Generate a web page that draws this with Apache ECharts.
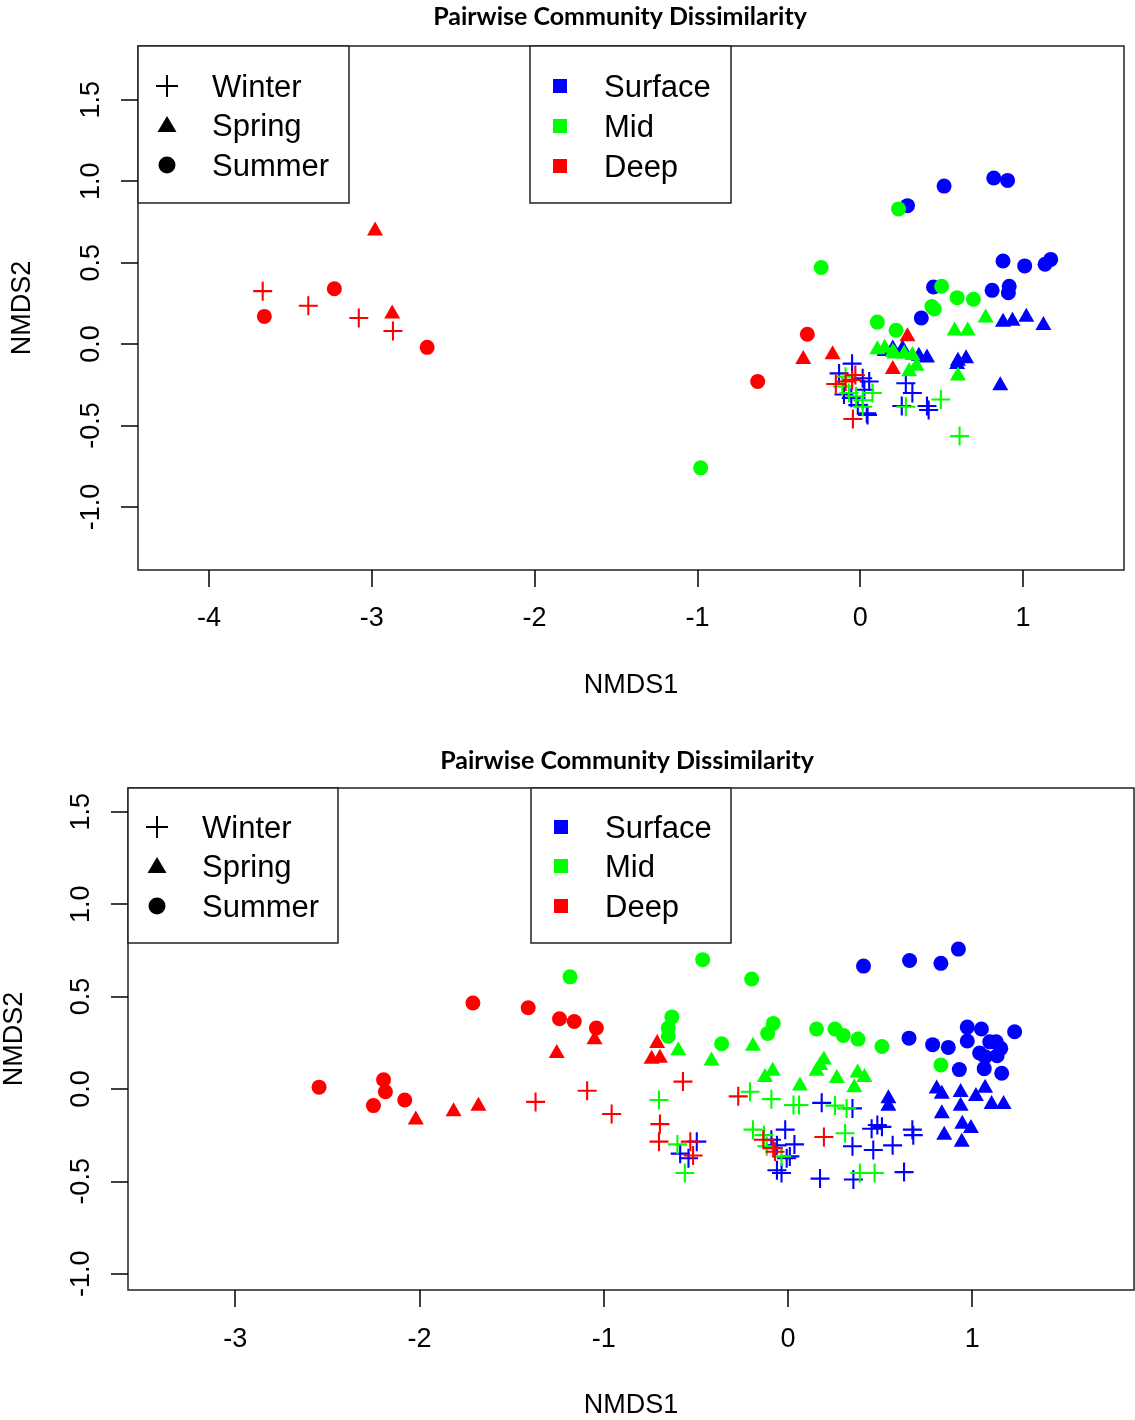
<!DOCTYPE html>
<html>
<head>
<meta charset="utf-8">
<script src="https://cdn.jsdelivr.net/npm/echarts@6/dist/echarts.min.js"></script>
<style>
  html, body { margin: 0; padding: 0; background: #fff; }
  #chart { width: 1135px; height: 1420px; }
</style>
</head>
<body>
<div id="chart"></div>
<script>
// ---- NMDS ordination scores, upper panel ----
const topWinterSurface = [[-0.13,-0.18],[-0.05,-0.12],[0.015,-0.21],[0.055,-0.23],[0.025,-0.28],[-0.055,-0.33],[-0.015,-0.375],[0.04,-0.425],[-0.10,-0.31],[0.28,-0.24],[0.32,-0.30],[0.255,-0.38],[0.41,-0.38],[0.42,-0.405],[0.045,-0.435]];
const topWinterMid = [[-0.09,-0.20],[-0.11,-0.26],[-0.07,-0.30],[-0.025,-0.32],[0.015,-0.345],[0.075,-0.30],[0.015,-0.385],[0.28,-0.385],[0.495,-0.34],[0.61,-0.565]];
const topWinterDeep = [[-3.67,0.325],[-3.39,0.235],[-3.08,0.16],[-2.87,0.08],[-0.15,-0.245],[-0.05,-0.22],[-0.09,-0.23],[-0.03,-0.19],[-0.045,-0.46]];
const topSpringSurface = [[0.877,0.15],[0.935,0.155],[1.02,0.18],[1.125,0.13],[0.20,-0.015],[0.26,-0.015],[0.36,-0.06],[0.41,-0.07],[0.60,-0.09],[0.65,-0.075],[0.595,-0.11],[0.86,-0.24],[0.15,-0.03]];
const topSpringMid = [[0.77,0.175],[0.58,0.095],[0.66,0.095],[0.105,-0.02],[0.15,-0.01],[0.20,-0.035],[0.27,-0.045],[0.32,-0.055],[0.30,-0.155],[0.345,-0.12],[0.60,-0.18],[0.21,-0.045]];
const topSpringDeep = [[-2.98,0.71],[-2.875,0.20],[-0.35,-0.08],[-0.17,-0.05],[0.29,0.06],[0.20,-0.14]];
const topSummerSurface = [[0.515,0.97],[0.82,1.02],[0.905,1.005],[0.29,0.85],[0.877,0.51],[1.01,0.48],[1.135,0.49],[1.17,0.52],[0.45,0.35],[0.81,0.33],[0.915,0.355],[0.91,0.315],[0.375,0.16]];
const topSummerMid = [[-0.24,0.47],[-0.98,-0.76],[0.235,0.83],[0.50,0.355],[0.595,0.285],[0.695,0.275],[0.455,0.215],[0.44,0.23],[0.105,0.135],[0.22,0.085]];
const topSummerDeep = [[-3.66,0.17],[-3.23,0.34],[-2.66,-0.02],[-0.325,0.06],[-0.63,-0.23]];

// ---- NMDS ordination scores, lower panel ----
const botWinterSurface = [[-0.495,-0.285],[-0.585,-0.35],[-0.54,-0.375],[-0.015,-0.22],[-0.06,-0.305],[-0.007,-0.375],[-0.06,-0.44],[-0.035,-0.455],[0.183,-0.075],[0.35,-0.105],[-0.09,-0.275],[0.01,-0.365],[0.174,-0.485],[0.355,-0.49],[0.35,-0.31],[0.454,-0.215],[0.51,-0.205],[0.463,-0.33],[0.568,-0.305],[0.63,-0.45],[0.675,-0.22],[0.68,-0.25],[0.485,-0.195],[0.035,-0.30]];
const botWinterMid = [[-0.70,-0.06],[-0.206,-0.015],[-0.09,-0.055],[0.03,-0.087],[0.06,-0.087],[-0.19,-0.22],[-0.56,-0.455],[-0.115,-0.31],[-0.035,-0.365],[0.255,-0.09],[0.318,-0.105],[0.31,-0.24],[0.39,-0.455],[0.47,-0.455],[-0.60,-0.30],[-0.13,-0.25]];
const botWinterDeep = [[-1.37,-0.07],[-1.09,-0.01],[-0.957,-0.135],[-0.57,0.04],[-0.695,-0.19],[-0.70,-0.285],[-0.27,-0.04],[-0.53,-0.285],[-0.515,-0.36],[-0.134,-0.275],[-0.08,-0.32],[-0.07,-0.34],[0.195,-0.26]];
const botSpringSurface = [[0.545,-0.04],[0.545,-0.08],[0.807,0.013],[0.835,-0.015],[0.937,-0.005],[1.07,0.018],[1.02,-0.027],[1.105,-0.07],[1.17,-0.07],[0.937,-0.08],[0.835,-0.12],[0.946,-0.177],[0.993,-0.20],[0.848,-0.237],[0.943,-0.275]];
const botSpringMid = [[-0.595,0.22],[-0.415,0.165],[-0.19,0.245],[-0.125,0.075],[-0.083,0.11],[0.065,0.03],[0.195,0.17],[0.155,0.11],[0.265,0.07],[0.378,0.10],[0.415,0.075],[0.36,0.02],[0.175,0.14]];
const botSpringDeep = [[-2.02,-0.155],[-1.815,-0.11],[-1.68,-0.08],[-1.255,0.205],[-1.05,0.28],[-0.71,0.26],[-0.74,0.175],[-0.695,0.18]];
const botSummerSurface = [[0.41,0.665],[0.66,0.695],[0.83,0.68],[0.925,0.757],[0.657,0.275],[0.785,0.24],[0.87,0.225],[0.973,0.335],[1.05,0.325],[1.23,0.31],[0.973,0.26],[1.095,0.255],[1.13,0.255],[1.155,0.22],[1.04,0.195],[1.07,0.175],[1.135,0.18],[0.93,0.105],[1.065,0.11],[1.16,0.085]];
const botSummerMid = [[-1.183,0.607],[-0.463,0.70],[-0.197,0.595],[-0.63,0.39],[-0.65,0.33],[-0.65,0.285],[-0.36,0.245],[-0.08,0.355],[-0.11,0.30],[0.155,0.325],[0.255,0.325],[0.30,0.29],[0.38,0.27],[0.51,0.23],[0.83,0.13]];
const botSummerDeep = [[-2.545,0.01],[-2.195,0.05],[-2.185,-0.015],[-2.25,-0.09],[-2.08,-0.06],[-1.71,0.465],[-1.41,0.44],[-1.24,0.38],[-1.16,0.365],[-1.04,0.33]];

// ---- axis limits and tick labels ----
const topXLimits = [-4.436, 1.62];
const topYLimits = [-1.387, 1.83];
const botXLimits = [-3.582, 1.878];
const botYLimits = [-1.088, 1.629];
const topXTicks = [-4, -3, -2, -1, 0, 1];
const botXTicks = [-3, -2, -1, 0, 1];
const yTicks = [-1.0, -0.5, 0.0, 0.5, 1.0, 1.5];

const seasons = ['Winter', 'Spring', 'Summer'];
const depths = ['Surface', 'Mid', 'Deep'];
const chartTitle = 'Pairwise Community Dissimilarity';
const xName = 'NMDS1';
const yName = 'NMDS2';

const depthColor = { Surface: '#0000FF', Mid: '#00FF00', Deep: '#FF0000' };
const t = 0.11;
const PLUS = 'path://M' + (-t) + ',-1L' + t + ',-1L' + t + ',' + (-t) + 'L1,' + (-t) + 'L1,' + t + 'L' + t + ',' + t +
  'L' + t + ',1L' + (-t) + ',1L' + (-t) + ',' + t + 'L-1,' + t + 'L-1,' + (-t) + 'L' + (-t) + ',' + (-t) + 'Z';
const seasonSymbol = { Winter: [PLUS, 19], Spring: ['triangle', [16, 14]], Summer: ['circle', 15] };

const panels = [
  { Winter: { Surface: topWinterSurface, Mid: topWinterMid, Deep: topWinterDeep },
    Spring: { Surface: topSpringSurface, Mid: topSpringMid, Deep: topSpringDeep },
    Summer: { Surface: topSummerSurface, Mid: topSummerMid, Deep: topSummerDeep } },
  { Winter: { Surface: botWinterSurface, Mid: botWinterMid, Deep: botWinterDeep },
    Spring: { Surface: botSpringSurface, Mid: botSpringMid, Deep: botSpringDeep },
    Summer: { Surface: botSummerSurface, Mid: botSummerMid, Deep: botSummerDeep } }
];

const series = [];
panels.forEach((p, i) => {
  seasons.forEach(s => {
    depths.forEach(d => {
      series.push({
        type: 'scatter',
        name: s + ' ' + d,
        xAxisIndex: i, yAxisIndex: i,
        data: p[s][d],
        symbol: seasonSymbol[s][0],
        symbolSize: seasonSymbol[s][1],
        itemStyle: { color: depthColor[d], opacity: 1 },
        emphasis: { disabled: true },
        silent: true
      });
    });
  });
});

const FONT = '"Liberation Sans", Arial, sans-serif';
const tickStyle = { show: true, length: 17, inside: false, lineStyle: { color: '#000', width: 1.5 } };

function xAxis(grid, lim, ticks, margin) {
  return {
    type: 'value', gridIndex: grid, min: lim[0], max: lim[1], position: 'bottom',
    axisLine: { show: false, onZero: false }, splitLine: { show: false },
    axisTick: Object.assign({ customValues: ticks }, tickStyle),
    axisLabel: { customValues: ticks, margin: margin, fontFamily: FONT, fontSize: 27, color: '#000',
      formatter: v => String(Math.round(v)) }
  };
}
function yAxis(grid, lim, ticks) {
  return {
    type: 'value', gridIndex: grid, min: lim[0], max: lim[1], position: 'left',
    axisLine: { show: false, onZero: false }, splitLine: { show: false },
    axisTick: Object.assign({ customValues: ticks }, tickStyle),
    axisLabel: { customValues: ticks, rotate: 90, margin: 33, fontFamily: FONT, fontSize: 27, color: '#000',
      formatter: v => v.toFixed(1) }
  };
}

// legend glyphs and frame drawn as graphic elements
function seasonLegend(x0, y0, w, h, sx, tx, ys) {
  const els = [{ type: 'rect', shape: { x: x0, y: y0, width: w, height: h }, style: { fill: '#fff', stroke: '#222', lineWidth: 1.5 } }];
  // plus
  els.push({ type: 'line', shape: { x1: sx - 11, y1: ys[0], x2: sx + 11, y2: ys[0] }, style: { stroke: '#000', lineWidth: 2 } });
  els.push({ type: 'line', shape: { x1: sx, y1: ys[0] - 11, x2: sx, y2: ys[0] + 11 }, style: { stroke: '#000', lineWidth: 2 } });
  // triangle
  els.push({ type: 'polygon', shape: { points: [[sx, ys[1] - 9], [sx + 9.5, ys[1] + 7], [sx - 9.5, ys[1] + 7]] }, style: { fill: '#000' } });
  // circle
  els.push({ type: 'circle', shape: { cx: sx, cy: ys[2], r: 8.5 }, style: { fill: '#000' } });
  seasons.forEach((s, i) => els.push({ type: 'text', x: tx, y: ys[i] + 2,
    style: { text: s, font: '31px ' + FONT, fill: '#000', textAlign: 'left', textVerticalAlign: 'middle' } }));
  return els;
}
function depthLegend(x0, y0, w, h, sx, tx, ys) {
  const els = [{ type: 'rect', shape: { x: x0, y: y0, width: w, height: h }, style: { fill: '#fff', stroke: '#222', lineWidth: 1.5 } }];
  depths.forEach((d, i) => {
    els.push({ type: 'rect', shape: { x: sx - 7, y: ys[i] - 7, width: 14, height: 14 }, style: { fill: depthColor[d] } });
    els.push({ type: 'text', x: tx, y: ys[i] + 2,
      style: { text: d, font: '31px ' + FONT, fill: '#000', textAlign: 'left', textVerticalAlign: 'middle' } });
  });
  return els;
}
function label(text, x, y, font, rot) {
  return { type: 'text', x: x, y: y, rotation: rot || 0,
    style: { text: text, font: font, fill: '#000', textAlign: 'center', textVerticalAlign: 'middle' } };
}

const TITLE_FONT = 'bold 25px Lato, "Liberation Sans", sans-serif';
const graphics = [].concat(
  seasonLegend(138, 46, 211, 157, 167, 212, [86, 125, 165]),
  depthLegend(530, 46, 201, 157, 560, 604, [86, 126, 166]),
  seasonLegend(128, 788, 210, 155, 157, 202, [827, 866, 906]),
  depthLegend(531, 788, 200, 155, 561, 605, [827, 866, 906]),
  [
    label(chartTitle, 620, 17, TITLE_FONT),
    label(chartTitle, 627, 761, TITLE_FONT),
    label(xName, 631, 686, '27px ' + FONT),
    label(xName, 631, 1406, '27px ' + FONT),
    label(yName, 23, 308, '27px ' + FONT, Math.PI / 2),
    label(yName, 15, 1039, '27px ' + FONT, Math.PI / 2)
  ]
);

const chart = echarts.init(document.getElementById('chart'), null, { renderer: 'canvas' });
chart.setOption({
  animation: false,
  backgroundColor: '#fff',
  grid: [
    { left: 138, top: 46, width: 986, height: 524, show: true, borderColor: '#222', borderWidth: 1.5, backgroundColor: 'transparent' },
    { left: 128, top: 788, width: 1006, height: 502, show: true, borderColor: '#222', borderWidth: 1.5, backgroundColor: 'transparent' }
  ],
  xAxis: [xAxis(0, topXLimits, topXTicks, 35), xAxis(1, botXLimits, botXTicks, 36)],
  yAxis: [yAxis(0, topYLimits, yTicks), yAxis(1, botYLimits, yTicks)],
  series: series,
  graphic: graphics
});
</script>
</body>
</html>
